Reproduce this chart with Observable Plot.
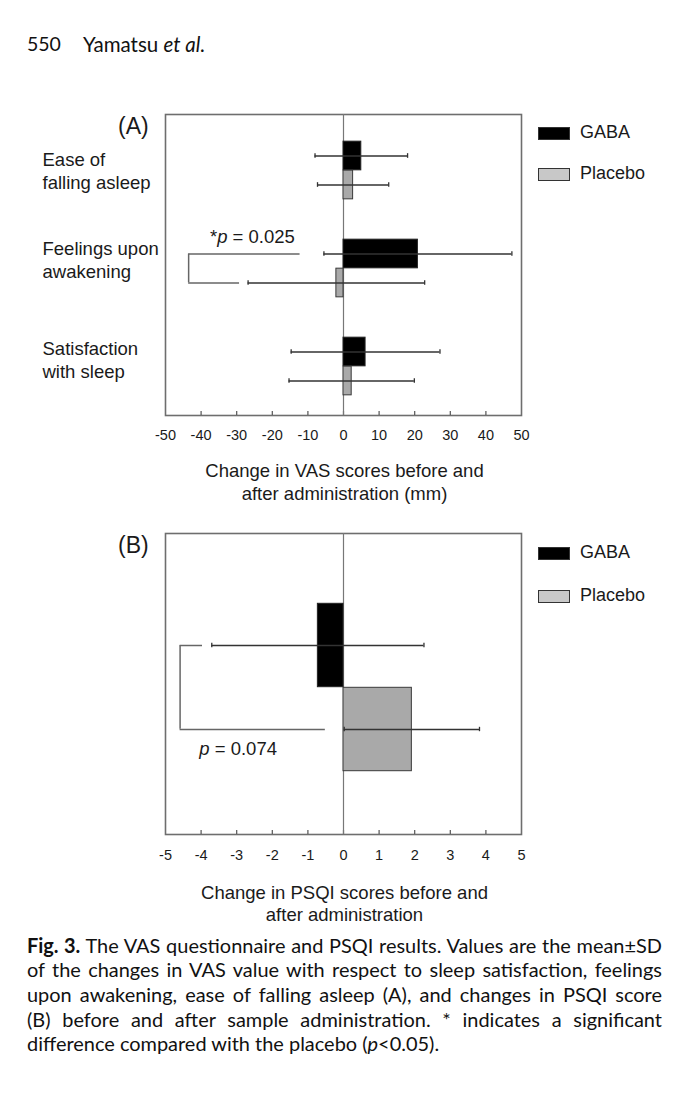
<!DOCTYPE html>
<html><head><meta charset="utf-8">
<script src="https://cdn.jsdelivr.net/npm/d3@7"></script>
<script src="https://cdn.jsdelivr.net/npm/@observablehq/plot@0.6"></script>
<style>
html,body{margin:0;padding:0;background:#fff;}
#page{position:relative;width:680px;height:1096px;overflow:hidden;background:#fff;color:#1a1a1a;font-family:"Liberation Sans",Arial,Helvetica,sans-serif;}
.abs{position:absolute;white-space:nowrap;}
.sw{position:absolute;width:30px;height:11px;border:1.5px solid #333;}
.cap{position:absolute;left:27px;width:640px;font-family:Lato,"Open Sans",sans-serif;color:#111;}
.cap div{white-space:nowrap;}
.cap span{display:inline-block;white-space:nowrap;}
</style></head>
<body><div id="page"></div>
<script>
// ---------- data ----------
const vasCategories = ["Ease of\nfalling asleep", "Feelings upon\nawakening", "Satisfaction\nwith sleep"];
const vasGabaMean = [5.0, 20.9, 6.2];
const vasGabaSD = [13.0, 26.4, 20.9];
const vasPlaceboMean = [2.7, -2.0, 2.3];
const vasPlaceboSD = [10.0, 24.8, 17.6];
const vasTicks = [-50, -40, -30, -20, -10, 0, 10, 20, 30, 40, 50];
const vasBracketX = [-12.2, -43.5, -29.2];   // top end, vertical, bottom end
const vasPText = "*p = 0.025";
const vasPTextX = -25.6;

const psqiCategories = ["PSQI"];
const psqiGabaMean = [-0.72];
const psqiGabaSD = [2.98];
const psqiPlaceboMean = [1.92];
const psqiPlaceboSD = [1.90];
const psqiTicks = [-5, -4, -3, -2, -1, 0, 1, 2, 3, 4, 5];
const psqiBracketX = [-3.96, -4.59, -0.51];
const psqiPText = "p = 0.074";
const psqiPTextX = -2.96;

const seriesNames = ["GABA", "Placebo"];

const captionLines = [
  '<b>Fig. 3.</b> The VAS questionnaire and PSQI results. Values are the mean±SD',
  'of the changes in VAS value with respect to sleep satisfaction, feelings',
  'upon awakening, ease of falling asleep (A), and changes in PSQI score',
  '(B) before and after sample administration. * indicates a significant',
  'difference compared with the placebo (<i>p</i>&lt;0.05).'
];

// ---------- drawing ----------
const page = document.getElementById("page");
const W = 680;

function makePanel(cfg) {
  const H = 350, mt = 14, mb = 35, ml = 165, mr = W - 521;
  const innerH = H - mt - mb;
  const bw = (innerH - cfg.yInsetTop) / cfg.categories.length;
  const half = bw / 2, h = cfg.barH, c = 5;
  const rows = cfg.categories.map((cat, i) => ({
    cat, gm: cfg.gabaMean[i], gs: cfg.gabaSD[i], pm: cfg.placeboMean[i], ps: cfg.placeboSD[i]
  }));
  const br = [{cat: cfg.bracketCat, a: cfg.bracketX[0], v: cfg.bracketX[1], b: cfg.bracketX[2]}];
  const gCap = {insetTop: half - h / 2 - c / 2, insetBottom: half + h / 2 - c / 2};
  const pCap = {insetTop: half + h / 2 - c / 2, insetBottom: half - h / 2 - c / 2};
  const errStyle = {stroke: "#333", strokeWidth: 1.3};
  const labelMarks = cfg.labelDy
    ? rows.map((r, i) => Plot.text([r], {y: "cat", text: "cat", frameAnchor: "left", textAnchor: "start", lineAnchor: "middle", dx: -123, dy: cfg.labelDy[i], fontSize: 18.5, lineHeight: 1.24, fill: "#1a1a1a"}))
    : [];
  const svg = Plot.plot({
    width: W, height: H,
    marginTop: mt, marginBottom: mb, marginLeft: ml, marginRight: mr,
    x: {domain: cfg.domain, label: null},
    y: {domain: cfg.categories, type: "band", padding: 0, insetTop: cfg.yInsetTop, axis: null, label: null},
    style: {fontFamily: "'Liberation Sans', Arial, sans-serif", fontSize: "15px", color: "#1a1a1a", background: "transparent"},
    marks: [
      Plot.frame({stroke: "#6e6e6e", strokeWidth: 1.6}),
      Plot.ruleX(cfg.ticks.slice(1, -1), {stroke: "#555", strokeWidth: 1.2, insetTop: innerH - 4}),
      Plot.ruleX([0], {stroke: "#777", strokeWidth: 1.2}),
      Plot.barX(rows, {x: "gm", y: "cat", fill: "#000", stroke: "#222", strokeWidth: 1, insetTop: half - h, insetBottom: half}),
      Plot.barX(rows, {x: "pm", y: "cat", fill: "#a9a9a9", stroke: "#3a3a3a", strokeWidth: 1, insetTop: half, insetBottom: half - h}),
      Plot.ruleY(rows, {y: "cat", x1: d => d.gm - d.gs, x2: d => d.gm + d.gs, dy: -h / 2, ...errStyle}),
      Plot.ruleY(rows, {y: "cat", x1: d => d.pm - d.ps, x2: d => d.pm + d.ps, dy: h / 2, ...errStyle}),
      Plot.tickX(rows, {y: "cat", x: d => d.gm - d.gs, ...gCap, ...errStyle}),
      Plot.tickX(rows, {y: "cat", x: d => d.gm + d.gs, ...gCap, ...errStyle}),
      Plot.tickX(rows, {y: "cat", x: d => d.pm - d.ps, ...pCap, ...errStyle}),
      Plot.tickX(rows, {y: "cat", x: d => d.pm + d.ps, ...pCap, ...errStyle}),
      // significance bracket
      Plot.ruleY(br, {y: "cat", x1: "v", x2: "a", dy: -h / 2, stroke: "#666", strokeWidth: 1.5}),
      Plot.ruleY(br, {y: "cat", x1: "v", x2: "b", dy: h / 2, stroke: "#666", strokeWidth: 1.5}),
      Plot.tickX(br, {y: "cat", x: "v", insetTop: half - h / 2, insetBottom: half - h / 2, stroke: "#666", strokeWidth: 1.5}),
      Plot.text([{cat: cfg.bracketCat, x: cfg.pTextX, t: cfg.pText}], {x: "x", y: "cat", text: "t", dy: cfg.pTextDy, fontSize: 18.5, fill: "#1a1a1a"}),
      ...labelMarks,
      Plot.axisX(cfg.ticks, {tickSize: 0, tickPadding: cfg.tickPadding, tickFormat: d => String(d), fontSize: 14.5, label: null})
    ]
  });
  // italic p in the annotation
  svg.querySelectorAll("text").forEach(t => {
    if (t.textContent === cfg.pText) {
      const i = cfg.pText.indexOf("p");
      t.innerHTML = cfg.pText.slice(0, i) + '<tspan font-style="italic">p</tspan>' + cfg.pText.slice(i + 1);
    }
  });
  svg.style.position = "absolute";
  svg.style.left = "0px";
  svg.style.top = cfg.top + "px";
  page.appendChild(svg);
}

function addText(txt, left, top, opts = {}) {
  const d = document.createElement("div");
  d.className = "abs";
  d.style.left = left + "px";
  d.style.top = top + "px";
  Object.assign(d.style, opts);
  d.innerHTML = txt;
  page.appendChild(d);
  return d;
}

function addLegend(gabaTop, placeboTop) {
  const fills = ["#000", "#c8c8c8"];
  [gabaTop, placeboTop].forEach((tp, i) => {
    const s = document.createElement("div");
    s.className = "sw";
    s.style.left = "538px";
    s.style.top = (tp - 5) + "px";
    s.style.background = fills[i];
    page.appendChild(s);
    addText(seriesNames[i], 580, tp - 9, {fontSize: "18px", lineHeight: "18px"});
  });
}

// header
const hdrFont = {fontFamily: "Lato, 'Open Sans', sans-serif", fontSize: "19.5px", lineHeight: "22px", color: "#111"};
addText('550', 27, 33, hdrFont);
addText('Yamatsu <i>et al.</i>', 83, 33, {...hdrFont, fontSize: "20.5px"});

// Panel A
makePanel({
  top: 100, categories: vasCategories, gabaMean: vasGabaMean, gabaSD: vasGabaSD,
  placeboMean: vasPlaceboMean, placeboSD: vasPlaceboSD, ticks: vasTicks, domain: [-50, 50],
  yInsetTop: 6, barH: 29, bracketCat: vasCategories[1], bracketX: vasBracketX,
  pText: vasPText, pTextX: vasPTextX, pTextDy: -31, labelDy: [-0.5, -9, -7], tickPadding: 14
});
addText("(A)", 118, 113, {fontSize: "23px", lineHeight: "26px"});
addLegend(131.5, 173);
addText("Change in VAS scores before and<br>after administration (mm)", 0, 458.5,
  {width: "689px", textAlign: "center", fontSize: "18.5px", lineHeight: "23px"});

// Panel B
makePanel({
  top: 519, categories: psqiCategories, gabaMean: psqiGabaMean, gabaSD: psqiGabaSD,
  placeboMean: psqiPlaceboMean, placeboSD: psqiPlaceboSD, ticks: psqiTicks, domain: [-5, 5],
  yInsetTop: 6.4, barH: 84, bracketCat: psqiCategories[0], bracketX: psqiBracketX,
  pText: psqiPText, pTextX: psqiPTextX, pTextDy: 62, labelDy: null, tickPadding: 15
});
addText("(B)", 118, 532, {fontSize: "23px", lineHeight: "26px"});
addLegend(552, 595);
addText("Change in PSQI scores before and<br>after administration", 0, 882,
  {width: "689px", textAlign: "center", fontSize: "18.5px", lineHeight: "22px"});

// caption: largest size whose widest justified line still fits the 635px block
const capW = 635, lineH = 24.7;
const cap = document.createElement("div");
cap.className = "cap";
cap.style.top = (945 - lineH / 2) + "px";
cap.style.lineHeight = lineH + "px";
cap.style.fontSize = "20px";
const spans = captionLines.map(html => {
  const row = document.createElement("div");
  const sp = document.createElement("span");
  sp.innerHTML = html;
  row.appendChild(sp);
  cap.appendChild(row);
  return sp;
});
page.appendChild(cap);
const widest = Math.max(...spans.slice(0, -1).map(sp => sp.getBoundingClientRect().width));
const fs = 20 * (capW - 6) / widest;
cap.style.fontSize = fs + "px";
spans.forEach((sp, i) => {
  if (i === spans.length - 1) return;
  const w = sp.getBoundingClientRect().width;
  const nSpaces = (sp.textContent.match(/ /g) || []).length;
  sp.style.wordSpacing = ((capW - w) / nSpaces) + "px";
});
</script>
</body></html>
